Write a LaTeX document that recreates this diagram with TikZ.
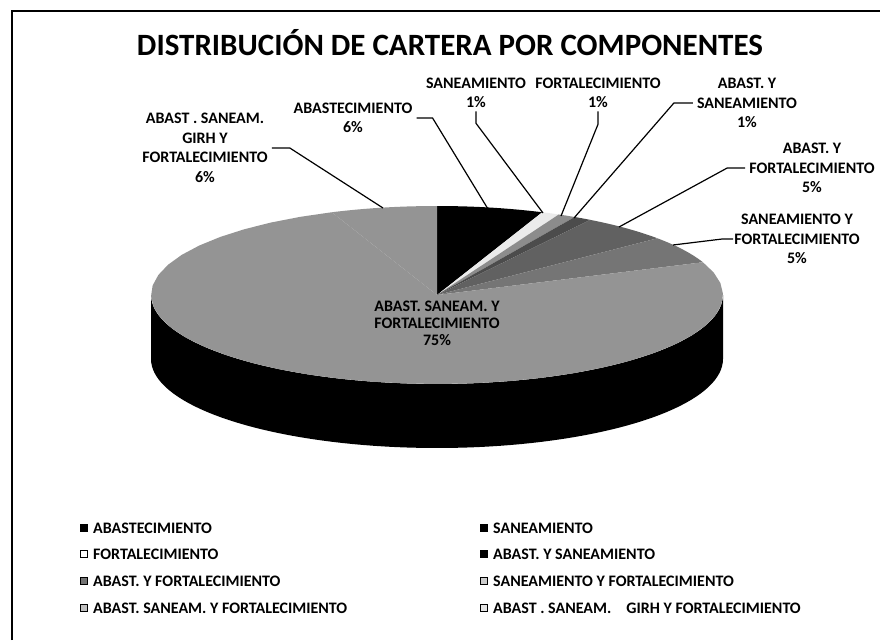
\documentclass[tikz,border=0pt]{standalone}
\usepackage{fontspec}
\setmainfont{Carlito}
\begin{document}
\begin{tikzpicture}[x=1pt,y=-1pt]
\tikzset{
  lbl/.style={font=\bfseries\fontsize{16}{19.5}\selectfont, align=center, inner sep=0pt},
  ctr/.style={font=\bfseries\fontsize{16}{17}\selectfont, align=center, inner sep=0pt},
  legtxt/.style={font=\bfseries\fontsize{16}{18}\selectfont, anchor=west, inner sep=0pt},
  legbox/.style={draw=black, line width=0.8pt, minimum size=6.5pt, inner sep=0pt},
  leader/.style={line width=1.2pt, line join=round},
}
\def\PX{437}\def\PY{295}\def\RX{286}\def\RY{89}\def\DP{64}
\useasboundingbox (0,0) rectangle (880,640);
\fill[white] (0,0) rectangle (880,640);
\draw[line width=2pt] (12,640) -- (12,11) -- (880,11);

% title
\node[font=\bfseries\fontsize{31}{36}\selectfont, inner sep=0pt] (title) at (450,43) {DISTRIBUCIÓN DE CARTERA POR COMPONENTES};

% pie side
\fill[black] plot[domain=90:270,samples=80] ({\PX+\RX*sin(\x)},{\PY-\RY*cos(\x)})
  -- plot[domain=270:90,samples=80] ({\PX+\RX*sin(\x)},{\PY+\DP-\RY*cos(\x)}) -- cycle;
% pie top
\foreach \sa/\sb/\sc in {0/21.6/black, 21.6/25.2/black!8, 25.2/28.8/black!45, 28.8/32.4/black!70, 32.4/50.4/black!62, 50.4/68.4/black!54, 68.4/338.4/black!42, 338.4/360/black!42}
  \fill[\sc] (\PX,\PY) -- plot[domain=\sa:\sb, samples=40] ({\PX+\RX*sin(\x)},{\PY-\RY*cos(\x)}) -- cycle;

% leader end points on the pie
\coordinate (pGIRH) at (383,208);
\coordinate (pAB) at (488,209);
\coordinate (pSAN) at (543,213);
\coordinate (pFORT) at (561,216);
\coordinate (pAyS) at (574,218);
\coordinate (pAyF) at (619,227);
\coordinate (pSyF) at (673,245);

% labels
\node[lbl] (lGIRH) at (205,148) {ABAST . SANEAM.\\GIRH Y\\FORTALECIMIENTO\\6\%};
\node[lbl] (lAB) at (353,118) {ABASTECIMIENTO\\6\%};
\node[lbl] (lSAN) at (476,93) {SANEAMIENTO\\1\%};
\node[lbl] (lFORT) at (598,93) {FORTALECIMIENTO\\1\%};
\node[lbl] (lAyS) at (747,103) {ABAST. Y\\SANEAMIENTO\\1\%};
\node[lbl] (lAyF) at (812,168) {ABAST. Y\\FORTALECIMIENTO\\5\%};
\node[lbl] (lSyF) at (797,239) {SANEAMIENTO Y\\FORTALECIMIENTO\\5\%};
\node[ctr] (lASF) at (437,323) {ABAST. SANEAM. Y\\FORTALECIMIENTO\\75\%};

% leaders
\draw[leader] ([xshift=4pt]lGIRH.east) -- ++(18,0) -- (pGIRH);
\draw[leader] ([xshift=4pt]lAB.east) -- ++(16,0) -- (pAB);
\draw[leader] ([yshift=-3pt]lSAN.south) -- ++(0,12) -- (pSAN);
\draw[leader] ([yshift=-3pt]lFORT.south) -- ++(0,13) -- (pFORT);
\draw[leader] ([xshift=-4pt]lAyS.west) -- ++(-19,0) -- (pAyS);
\draw[leader] ([xshift=-4pt]lAyF.west) -- ++(-18,0) -- (pAyF);
\draw[leader] ([xshift=-1pt]lSyF.west) -- ++(-11,0) -- (pSyF);

% legend
\node[legbox, fill=black] (m1) at (84,528) {};
\node[legtxt] (t1) at (93,528) {ABASTECIMIENTO};
\node[legbox, fill=white] (m2) at (84,554) {};
\node[legtxt] (t2) at (93,554) {FORTALECIMIENTO};
\node[legbox, fill=black!55] (m3) at (84,581) {};
\node[legtxt] (t3) at (93,581) {ABAST. Y FORTALECIMIENTO};
\node[legbox, fill=black!25] (m4) at (84,608) {};
\node[legtxt] (t4) at (93,608) {ABAST. SANEAM. Y FORTALECIMIENTO};
\node[legbox, fill=black] (m5) at (484,528) {};
\node[legtxt] (t5) at (493,528) {SANEAMIENTO};
\node[legbox, fill=black] (m6) at (484,554) {};
\node[legtxt] (t6) at (493,554) {ABAST. Y SANEAMIENTO};
\node[legbox, fill=black!20] (m7) at (484,581) {};
\node[legtxt] (t7) at (493,581) {SANEAMIENTO Y FORTALECIMIENTO};
\node[legbox, fill=black!10] (m8) at (484,608) {};
\node[legtxt] (t8) at (493,608) {ABAST . SANEAM.\hspace{15pt}GIRH Y FORTALECIMIENTO};
\end{tikzpicture}
\end{document}
